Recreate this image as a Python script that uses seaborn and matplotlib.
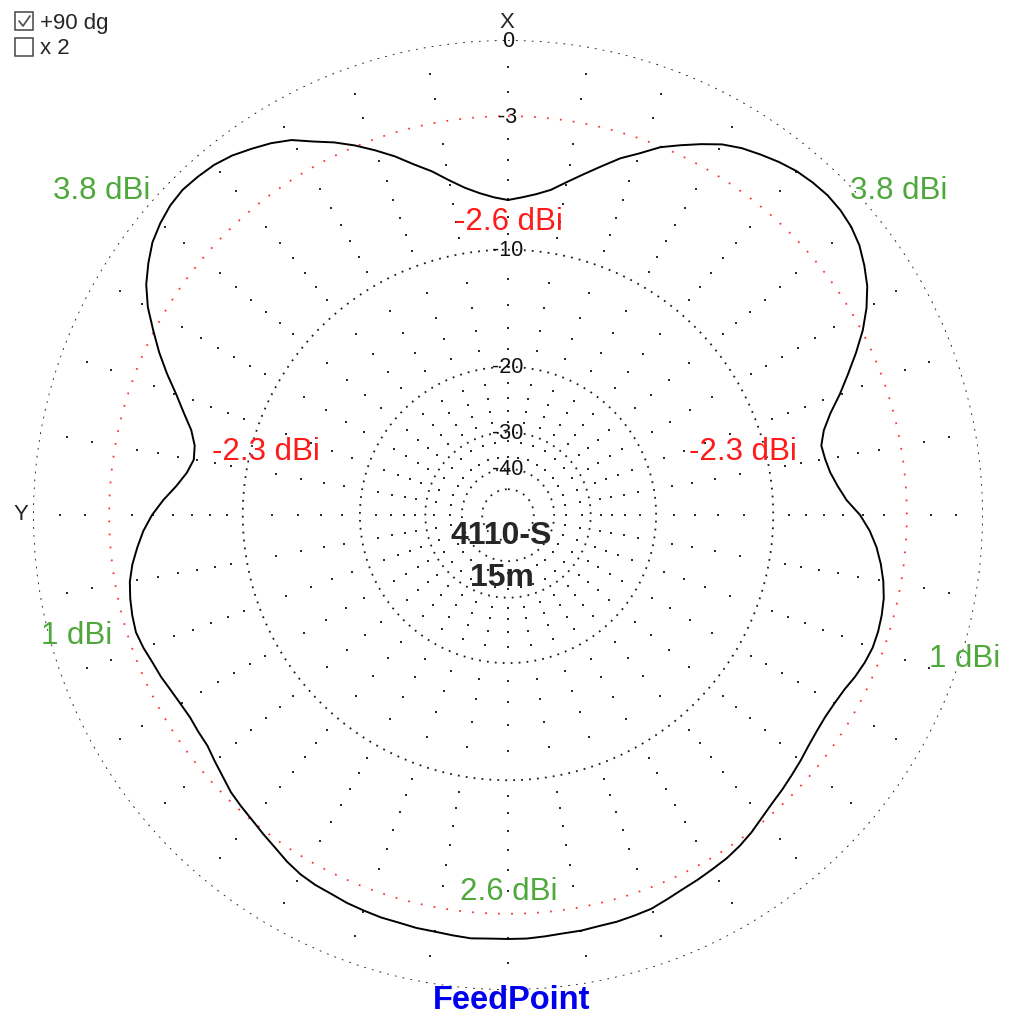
import numpy as np
import matplotlib
matplotlib.use("Agg")
import matplotlib.pyplot as plt
from matplotlib.patches import Rectangle
from matplotlib.lines import Line2D
import seaborn as sns

# azimuth pattern, degrees clockwise from X (top), gain in dBi
azimuth = [i * 2.5 for i in range(144)]
gain_dbi = [
    # 0 .. 87.5
    -2.65, -2.49, -2.27, -1.96, -1.44, -0.89, -0.31, 0.30, 0.79, 1.37,
    1.79, 2.21, 2.61, 2.89, 3.09, 3.28, 3.43, 3.51, 3.55, 3.51,
    3.40, 3.20, 2.89, 2.53, 2.04, 1.45, 0.75, 0.02, -0.69, -1.44,
    -2.01, -2.33, -2.27, -2.11, -1.80, -1.39,
    # 90 .. 177.5
    -0.74, -0.26, 0.11, 0.39, 0.62, 0.79, 0.88, 0.93, 0.93, 0.84,
    0.70, 0.52, 0.43, 0.39, 0.43, 0.52, 0.66, 0.79, 0.93, 1.06,
    1.24, 1.45, 1.62, 1.75, 1.83, 1.92, 2.00, 2.12, 2.25, 2.29,
    2.33, 2.33, 2.37, 2.37, 2.41, 2.45,
    # 180 .. 267.5
    2.45, 2.45, 2.49, 2.45, 2.41, 2.41, 2.37, 2.37, 2.33, 2.29,
    2.21, 2.17, 2.08, 1.92, 1.71, 1.54, 1.37, 1.24, 1.10, 0.88,
    0.70, 0.52, 0.48, 0.43, 0.48, 0.57, 0.70, 0.79, 0.93, 1.02,
    0.97, 0.88, 0.75, 0.52, 0.21, -0.12,
    # 270 .. 357.5
    -0.55, -1.09, -1.70, -2.17, -2.43, -2.33, -1.96, -1.34, -0.69, 0.07,
    0.79, 1.45, 2.12, 2.65, 3.05, 3.40, 3.62, 3.78, 3.85, 3.81,
    3.74, 3.59, 3.36, 3.12, 2.81, 2.33, 1.92, 1.45, 0.93, 0.39,
    -0.22, -0.74, -1.34, -1.85, -2.22, -2.49,
]
ref_dbi = 4.4  # gain on the outer (0 dB) ring

ring_db = [0, -3, -10, -20, -30, -40, -50]
ring_labels = ["0", "-3", "-10", "-20", "-30", "-40", ""]
spoke_db = [-1, -2, -3, -4, -5, -6, -7, -8, -9,
            -12, -14, -16, -18, -22, -24, -26, -28, -32, -36]

# gain annotations: text, colour, centre in pixels
gain_notes = [
    ("3.8 dBi", "#4ea83c", 102, 191),
    ("3.8 dBi", "#4ea83c", 899, 191),
    ("-2.6 dBi", "#ff1a1a", 509, 222),
    ("-2.3 dBi", "#ff1a1a", 266, 452),
    ("-2.3 dBi", "#ff1a1a", 743, 452),
    ("1 dBi", "#4ea83c", 77, 636),
    ("1 dBi", "#4ea83c", 965, 659),
    ("2.6 dBi", "#4ea83c", 509, 892),
]

W, H = 1023, 1020


def arrl_fwd(g):
    # ARRL log-periodic scale: radius shrinks by 0.89 per 2 dB
    return 0.89 ** ((ref_dbi - np.asarray(g, dtype=float)) / 2.0)


def arrl_inv(r):
    r = np.clip(np.asarray(r, dtype=float), 1e-12, None)
    return ref_dbi - 2.0 * np.log(r) / np.log(0.89)


def fx(px):
    return px / W


def fy(py):
    return 1 - py / H


sns.set_style("white")
plt.rcParams["font.family"] = ["Liberation Sans", "DejaVu Sans"]

fig = plt.figure(figsize=(W / 100, H / 100), dpi=100)
cx, cy, R = 508, 516, 475
ax = fig.add_axes([fx(cx - R), fy(cy + R), 2 * R / W, 2 * R / H], projection="polar")
ax.set_theta_zero_location("N")
ax.set_theta_direction(-1)
ax.set_rscale("function", functions=(arrl_fwd, arrl_inv))

# rings
full = np.linspace(0, 2 * np.pi, 1441)
for d in ring_db:
    if d == -3:
        ax.plot(full, np.full_like(full, ref_dbi + d), color="#ff3333",
                lw=1.3, ls=(0, (1, 6.2)))
    else:
        ax.plot(full, np.full_like(full, ref_dbi + d), color="#1a1a1a",
                lw=1.3, ls=(0, (1, 3.4)))

# radial dotted lines every 10 degrees
spoke_th, spoke_g = [], []
for a in range(0, 360, 10):
    for d in spoke_db:
        if d in ring_db:
            continue
        spoke_th.append(np.deg2rad(a))
        spoke_g.append(ref_dbi + d)
ax.scatter(spoke_th, spoke_g, s=2.2, color="#2a2a2a", marker="s", linewidths=0)

# pattern
theta = np.deg2rad(azimuth + [360])
gains = gain_dbi + [gain_dbi[0]]
sns.lineplot(x=theta, y=gains, ax=ax, sort=False, estimator=None,
             color="black", linewidth=1.4)

ax.set_rlim(-200, ref_dbi)
ax.grid(False)
ax.set_xticks([])
ax.set_yticks([])
ax.set_xlabel("")
ax.set_ylabel("")
ax.spines["polar"].set_visible(False)

for d, lab in zip(ring_db, ring_labels):
    if lab:
        ax.text(0, ref_dbi + d, lab, ha="center", va="center",
                fontsize=15.5, color="#111111", zorder=5)

for txt, col, px, py in gain_notes:
    fig.text(fx(px), fy(py), txt, color=col, fontsize=22.5,
             ha="center", va="center")

fig.text(fx(507), fy(22), "X", fontsize=16, ha="center", va="center")
fig.text(fx(21), fy(515), "Y", fontsize=16, ha="center", va="center")
fig.text(fx(501), fy(536), "4110-S", fontsize=23, fontweight="bold",
         ha="center", va="center")
fig.text(fx(502), fy(578), "15m", fontsize=23, fontweight="bold",
         ha="center", va="center")
fig.text(fx(512), fy(1001), "FeedPoint", fontsize=23.5, fontweight="bold",
         color="#0000ee", ha="center", va="center")

# check boxes
for top in (13, 39):
    fig.add_artist(Rectangle((fx(15), fy(top + 18)), 18 / W, 18 / H,
                             transform=fig.transFigure, fill=False,
                             edgecolor="#444444", lw=1.1))
fig.add_artist(Line2D([fx(19), fx(23), fx(30)], [fy(22), fy(27), fy(17)],
                      transform=fig.transFigure, color="#555555", lw=1.3))
fig.text(fx(40), fy(23), "+90 dg", fontsize=16, ha="left", va="center")
fig.text(fx(40), fy(49), "x 2", fontsize=16, ha="left", va="center")

fig.savefig("out.png", dpi=100)
